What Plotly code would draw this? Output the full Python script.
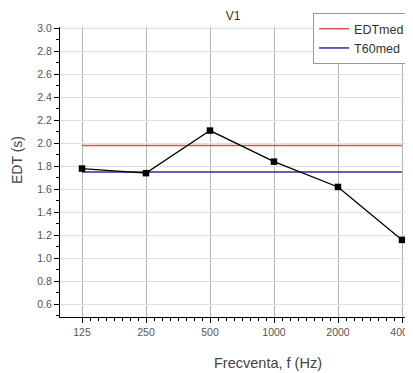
import plotly.graph_objects as go

freqs = [125, 250, 500, 1000, 2000, 4000]
edt = [1.78, 1.74, 2.11, 1.84, 1.62, 1.16]
edt_med = 1.98
t60_med = 1.75
tick_labels = ["125", "250", "500", "1000", "2000", "4000"]
y_ticks = [0.6, 0.8, 1.0, 1.2, 1.4, 1.6, 1.8, 2.0, 2.2, 2.4, 2.6, 2.8, 3.0]

fig = go.Figure()
fig.add_trace(go.Scatter(x=[freqs[0], freqs[-1]], y=[edt_med, edt_med], mode="lines",
                         line=dict(color="#d9534f", width=1.5), name="EDTmed"))
fig.add_trace(go.Scatter(x=[freqs[0], freqs[-1]], y=[t60_med, t60_med], mode="lines",
                         line=dict(color="#2b2b9e", width=1.5), name="T60med"))
fig.add_trace(go.Scatter(x=freqs, y=edt, mode="lines+markers",
                         line=dict(color="black", width=1.3),
                         marker=dict(symbol="square", size=6.5, color="black"),
                         showlegend=False))

minor_vals = []
for f in freqs[:-1]:
    for k in range(1, 8):
        minor_vals.append(f * 2 ** (k / 8))
for k in range(1, 3):
    minor_vals.append(4000 * 2 ** (k / 8))

font = "Liberation Sans, Arial, sans-serif"
# page body has an 8px margin, so the figure is sized to fit inside the window
fig.update_layout(
    width=405, height=365,
    margin=dict(l=52, r=0, t=19, b=56, autoexpand=False),
    paper_bgcolor="white", plot_bgcolor="white",
    title=dict(text="V1", x=0.556, xanchor="center", y=0.980, yanchor="middle",
               font=dict(family=font, size=12, color="#333"), automargin=False),
    font=dict(family=font, size=10, color="#555"),
    legend=dict(x=0.717, y=1.048, xanchor="left", yanchor="top",
                bgcolor="white", bordercolor="#999", borderwidth=1,
                font=dict(family=font, size=12.5, color="#333"),
                itemwidth=30, tracegroupgap=0),
    xaxis=dict(type="log", range=[1.9934, 3.6538], automargin=False,
               tickvals=freqs, ticktext=tick_labels, ticklabeloverflow="allow",
               showline=True, linecolor="black", linewidth=1,
               ticks="outside", ticklen=5, tickcolor="black",
               showgrid=True, gridcolor="#b5b5b5", gridwidth=1,
               zeroline=False,
               minor=dict(tickvals=minor_vals, ticks="outside", ticklen=3,
                          tickcolor="black", showgrid=False),
               tickfont=dict(size=10.5, color="#555")),
    yaxis=dict(range=[0.49, 3.01], tickvals=y_ticks, automargin=False,
               ticktext=[f"{v:.1f}" for v in y_ticks],
               showline=True, linecolor="black", linewidth=1,
               ticks="outside", ticklen=5, tickcolor="black",
               showgrid=True, gridcolor="#dedede", gridwidth=1,
               zeroline=False,
               minor=dict(dtick=0.1, tick0=0.5, ticks="outside", ticklen=3,
                          tickcolor="black", showgrid=False),
               tickfont=dict(size=10.5, color="#555")),
    annotations=[
        dict(text="Frecventa, f (Hz)", xref="paper", yref="paper",
             x=(260 - 52) / 353, y=(309 - 355) / 290, xanchor="center", yanchor="middle",
             showarrow=False, font=dict(family=font, size=14.5, color="#444")),
        dict(text="EDT (s)", xref="paper", yref="paper", textangle=-90,
             x=(9 - 52) / 353, y=(309 - 152) / 290, xanchor="center", yanchor="middle",
             showarrow=False, font=dict(family=font, size=14, color="#444")),
    ],
)
fig.write_html("out.html")
